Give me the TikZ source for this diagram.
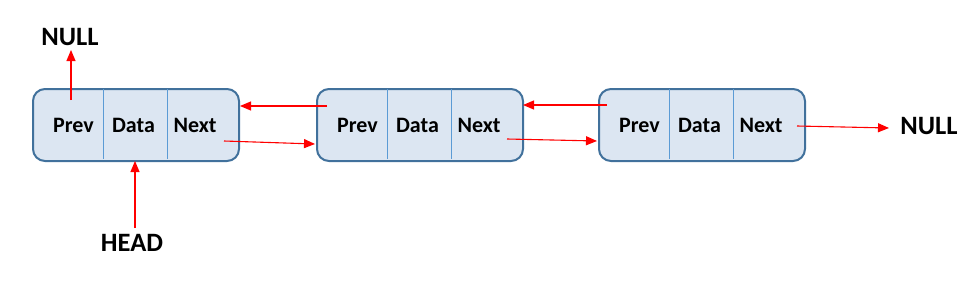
\documentclass[tikz,border=0pt]{standalone}
\usepackage{fontspec}
\setmainfont{Carlito}
\usetikzlibrary{arrows.meta}
\definecolor{boxfill}{HTML}{DCE6F2}
\definecolor{boxline}{HTML}{41719C}
\definecolor{divline}{HTML}{5B9BD5}
\tikzset{
  cellbox/.style={draw=boxline, line width=2pt, fill=boxfill, rounded corners=12pt,
    minimum width=206pt, minimum height=72pt, inner sep=0pt, anchor=north west},
  divider/.style={draw=divline, line width=1pt},
  celltext/.style={font=\bfseries\fontsize{22}{24}\selectfont, inner sep=0pt},
  label/.style={font=\bfseries\fontsize{26.5}{28}\selectfont, inner sep=0pt},
  ptr/.style={draw=red, line width=1.1pt, -{Triangle[length=11pt,width=9pt]}},
}
\begin{document}
\begin{tikzpicture}[x=1pt,y=-1pt]
\useasboundingbox (0,0) rectangle (980,284);
% boxes
\foreach \n/\x in {b1/32, b2/316, b3/598}{
  \node[cellbox] (\n) at (\x,88) {};
  \draw[divider] (\x+71,89) -- (\x+71,159);
  \draw[divider] (\x+135,89) -- (\x+135,159);
  \node[celltext] (\n p) at (\x+41.5,125) {Prev};
  \node[celltext] (\n d) at (\x+101.5,125) {Data};
  \node[celltext] (\n n) at (\x+163,125) {Next};
}
% labels
\node[label] (nulltop) at (70,37) {NULL};
\node[label] (head) at (132,243) {HEAD};
\node[label] (nullright) at (929,126) {NULL};
% pointer start points
\coordinate (s0) at (71,100);
\coordinate (sh) at (135,228);
\coordinate (s1n) at (224,141);
\coordinate (s2p) at (327,106);
\coordinate (s2n) at (507,139);
\coordinate (s3p) at (607,105);
\coordinate (s3n) at (797,126);
% pointer end points on borders
\coordinate (e0) at (71,50);
\coordinate (eh) at (135,161);
\coordinate (e1) at (315,144);
\coordinate (e2) at (240,106);
\coordinate (e3) at (597,141);
\coordinate (e4) at (523,105);
\coordinate (e5) at (889,128);
% pointers
\draw[ptr] (s0) -- (e0);
\draw[ptr] (sh) -- (eh);
\draw[ptr] (s1n) -- (e1);
\draw[ptr] (s2p) -- (e2);
\draw[ptr] (s2n) -- (e3);
\draw[ptr] (s3p) -- (e4);
\draw[ptr] (s3n) -- (e5);
\end{tikzpicture}
\end{document}
